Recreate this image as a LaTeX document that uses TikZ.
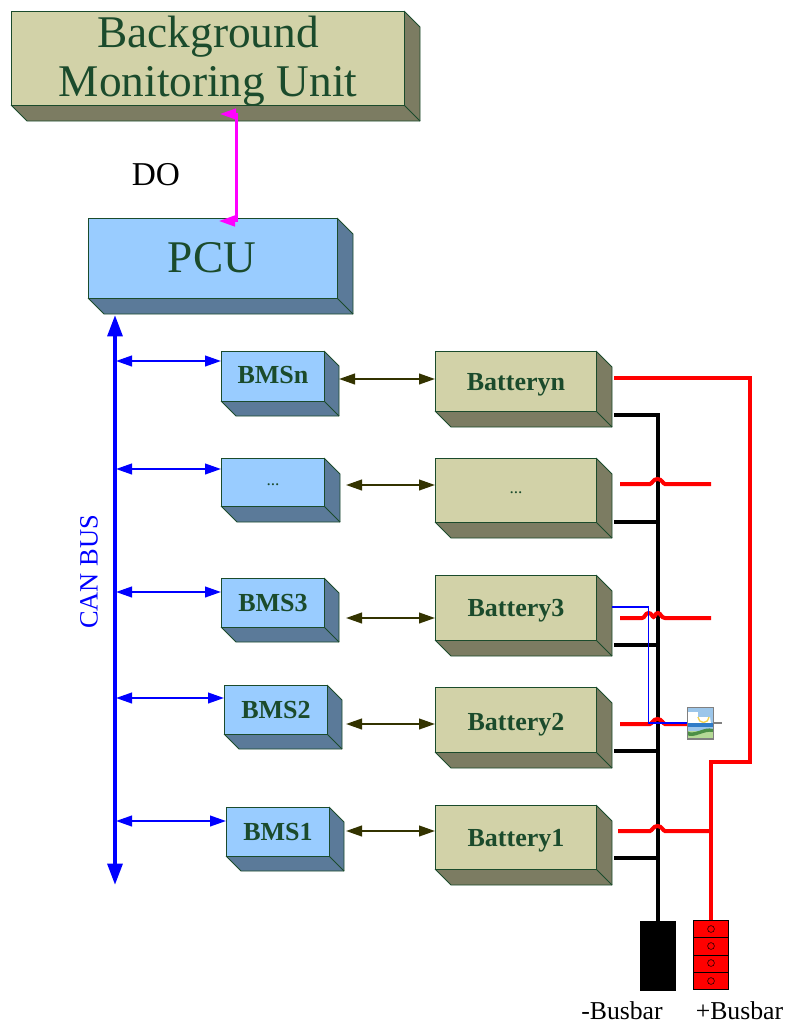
\documentclass[tikz,border=0pt]{standalone}
\usepackage{fontspec}
\setmainfont{Liberation Serif}
\usetikzlibrary{arrows.meta}
\definecolor{olivefront}{HTML}{D2D2A8}
\definecolor{oliveside}{HTML}{7C7C62}
\definecolor{bluefront}{HTML}{99CCFF}
\definecolor{blueside}{HTML}{5B7A99}
\definecolor{edgegreen}{HTML}{1B4B2C}
\definecolor{darkolive}{HTML}{333300}
\definecolor{puremagenta}{HTML}{FF00FF}
\definecolor{pureblue}{HTML}{0000FF}
\definecolor{purered}{HTML}{FF0000}
\definecolor{imgsky}{HTML}{9CC6EA}
\definecolor{imgblue}{HTML}{2F7CC8}
\definecolor{imghill}{HTML}{4C8F46}
\definecolor{imggrass}{HTML}{B5D996}
\definecolor{imgsun}{HTML}{F2D24A}
\tikzset{
  facefront/.style={draw=edgegreen,line width=0.7pt,inner sep=0pt},
  faceside/.style={draw=edgegreen,line width=0.7pt,line join=round},
  canbus/.style={pureblue,line width=3pt,{Triangle[length=16pt,width=11pt]}-{Triangle[length=16pt,width=11pt]}},
  canbranch/.style={pureblue,line width=1.5pt,{Triangle[length=12pt,width=8pt]}-{Triangle[length=12pt,width=8pt]}},
  linkarrow/.style={darkolive,line width=1.5pt,{Triangle[length=12pt,width=8pt]}-{Triangle[length=12pt,width=8pt]}},
  doline/.style={puremagenta,line width=1.8pt,{Triangle[length=12pt,width=8pt]}-{Triangle[length=12pt,width=8pt]}},
  redbus/.style={purered,line width=3pt,line join=miter},
  blackbus/.style={black,line width=3pt,line join=miter},
  bigtext/.style={text=edgegreen,inner sep=0pt,anchor=base,font=\fontsize{34}{36}\selectfont},
  modtext/.style={text=edgegreen,inner sep=0pt,anchor=base,font=\fontsize{19.5}{21}\selectfont\bfseries},
  dotstext/.style={text=edgegreen,inner sep=0pt,anchor=base,font=\fontsize{13}{14}\selectfont},
  plainlabel/.style={inner sep=0pt,anchor=base,font=\fontsize{19.3}{21}\selectfont},
}
% name, x1, y1, x2, y2, depth, front colour, side colour
\newcommand{\threedbox}[8]{%
  \pgfmathsetmacro{\bxw}{(#4-#2)*0.75}%
  \pgfmathsetmacro{\bxh}{(#5-#3)*0.75}%
  \fill[#8] (#2,#5) -- (#2+#6,#5+#6) -- (#4+#6,#5+#6) -- (#4+#6,#3+#6) -- (#4,#3) -- (#4,#5) -- cycle;
  \draw[faceside] (#2,#5) -- (#2+#6,#5+#6) -- (#4+#6,#5+#6) -- (#4+#6,#3+#6) -- (#4,#3);
  \draw[faceside] (#4,#5) -- (#4+#6,#5+#6);
  \node[facefront,fill=#7,minimum width=\bxw pt,minimum height=\bxh pt,anchor=north west] (#1) at (#2,#3) {};
}
\begin{document}
\begin{tikzpicture}[x=0.75pt,y=-0.75pt]
\useasboundingbox (0,0) rectangle (785,1024);
\threedbox{bmu}{11}{11}{404}{105}{16}{olivefront}{oliveside}
\threedbox{pcu}{88}{218}{337}{298}{16}{bluefront}{blueside}
\threedbox{bmsn}{221}{351}{324}{401}{15}{bluefront}{blueside}
\threedbox{bmsd}{221}{458}{324}{506}{16}{bluefront}{blueside}
\threedbox{bmsc}{221}{578}{324}{627}{15}{bluefront}{blueside}
\threedbox{bmsb}{224}{685}{327}{734}{15}{bluefront}{blueside}
\threedbox{bmsa}{226}{807}{329}{856}{15}{bluefront}{blueside}
\threedbox{batn}{435}{351}{596}{411}{16}{olivefront}{oliveside}
\threedbox{batd}{435}{458}{596}{522}{16}{olivefront}{oliveside}
\threedbox{batc}{435}{575}{596}{640}{16}{olivefront}{oliveside}
\threedbox{batb}{435}{687}{596}{752}{16}{olivefront}{oliveside}
\threedbox{bata}{435}{805}{596}{869}{16}{olivefront}{oliveside}
\node[bigtext] (bmutexta) at (208,47.5) {Background};
\node[bigtext] (bmutextb) at (208,97) {Monitoring Unit};
\node[bigtext] (pcutext) at (212,272) {PCU};
\node[modtext] (tbmsn) at (273,383) {BMSn};
\node[dotstext] (tbmsd) at (273,485) {...};
\node[modtext] (tbmsc) at (273,611) {BMS3};
\node[modtext] (tbmsb) at (276,718) {BMS2};
\node[modtext] (tbmsa) at (278,840) {BMS1};
\node[modtext] (tbatn) at (516,390) {Batteryn};
\node[dotstext] (tbatd) at (516,493) {...};
\node[modtext] (tbatc) at (516,616) {Battery3};
\node[modtext] (tbatb) at (516,730) {Battery2};
\node[modtext] (tbata) at (516,846) {Battery1};
% DO
\node[inner sep=0pt,anchor=base,font=\fontsize{25}{26}\selectfont] (dolabel) at (156,185) {DO};
\coordinate (dotop) at (220,114);
\coordinate (dobot) at (219,221);
\draw[doline] (dotop) -- (236.5,114) -- (236.5,221) -- (dobot);
% CAN bus
\coordinate (cantop) at (115,315);
\coordinate (canbot) at (115,885);
\draw[canbus] (cantop) -- (canbot);
\node[rotate=90,text=pureblue,inner sep=0pt,font=\fontsize{19.8}{21}\selectfont] (canlabel) at (89,572) {CAN BUS};
\foreach \nm/\yy in {bmsn/361,bmsd/469,bmsc/592,bmsb/698,bmsa/821}{
  \coordinate (tap) at (116,\yy);
  \draw[canbranch] (tap) -- (\nm.west |- tap);
}
% links
\foreach \bt/\sx/\yy in {batn/339/379,batd/346/485,batc/346/618,batb/346/724,bata/346/831}{
  \coordinate (lnk) at (\sx,\yy);
  \draw[linkarrow] (lnk) -- (\bt.west |- lnk);
}
% busbars
\node[draw=black,fill=black,minimum width=26.3pt,minimum height=52pt,inner sep=0pt,anchor=north west] (negbus) at (639.5,921) {};
\node[draw=black,fill=purered,minimum width=26pt,minimum height=52pt,inner sep=0pt,anchor=north west,line width=0.5pt] (posbus) at (693,920) {};
\foreach \yy in {937,955,972}{\draw[black,line width=0.6pt] (693,\yy) -- (728,\yy);}
\foreach \yy in {929,946,963,981}{\draw[black,line width=0.4pt] (711,\yy) circle[radius=3.4];}
\node[plainlabel] (neglabel) at (622,1019.5) {-Busbar};
\node[plainlabel] (poslabel) at (739.5,1019.5) {+Busbar};
% black bus
\draw[blackbus] (657.5,921) -- (657.5,415) -- (614,415);
\foreach \yy in {522,645,751,858}{\draw[blackbus] (614,\yy) -- (657.5,\yy);}
% red bus
\draw[redbus] (614,378) -- (750,378) -- (750,762) -- (711,762) -- (711,920);
\draw[redbus] (620,484) -- (650,484) .. controls (652,484) and (653,479) .. (657.5,479) .. controls (662,479) and (663,484) .. (665,484) -- (711,484);
\draw[redbus] (620,618) -- (642,618) .. controls (645,618) and (645,613) .. (648.5,613) .. controls (652,613) and (652,617) .. (653.5,617) .. controls (655,617) and (655,613) .. (658,613) .. controls (661,613) and (661,618) .. (665,618) -- (711,618);
\draw[redbus] (620,724) -- (650,724) .. controls (652,724) and (653,719) .. (657.5,719) .. controls (662,719) and (663,724) .. (665,724) -- (687,724);
\draw[redbus] (618,831) -- (650,831) .. controls (652,831) and (653,826) .. (657.5,826) .. controls (662,826) and (663,831) .. (665,831) -- (711,831);
% thin blue
\coordinate (thinstart) at (612,607);
\coordinate (thinend) at (687,723);
\draw[pureblue,line width=0.9pt] (thinstart) -- (648.5,607) -- (648.5,723) -- (thinend);
% picture icon
\draw[gray,line width=1.5pt] (713,723) -- (722,723);
\fill[imgsky] (687,707) rectangle (713,724);
\fill[white] (688,712) rectangle (698,724);
\fill[white] (698,717) -- (710,717) -- (711,724) -- (698,724) -- cycle;
\draw[imgsun,line width=1pt] (698,717) arc[start angle=180,end angle=0,radius=5.5];
\fill[imgblue] (687,723) rectangle (713,727);
\fill[imgsky] (687,727) rectangle (713,733);
\fill[imggrass] (687,731) rectangle (713,738.5);
\fill[imghill] (687,731) .. controls (694,736) and (704,726) .. (713,729) -- (713,732) .. controls (704,730) and (694,739) .. (687,735) -- cycle;
\node[draw=gray,line width=0.9pt,minimum width=19.5pt,minimum height=23.5pt,inner sep=0pt,anchor=north west] (icon) at (687,707) {};
\end{tikzpicture}
\end{document}
